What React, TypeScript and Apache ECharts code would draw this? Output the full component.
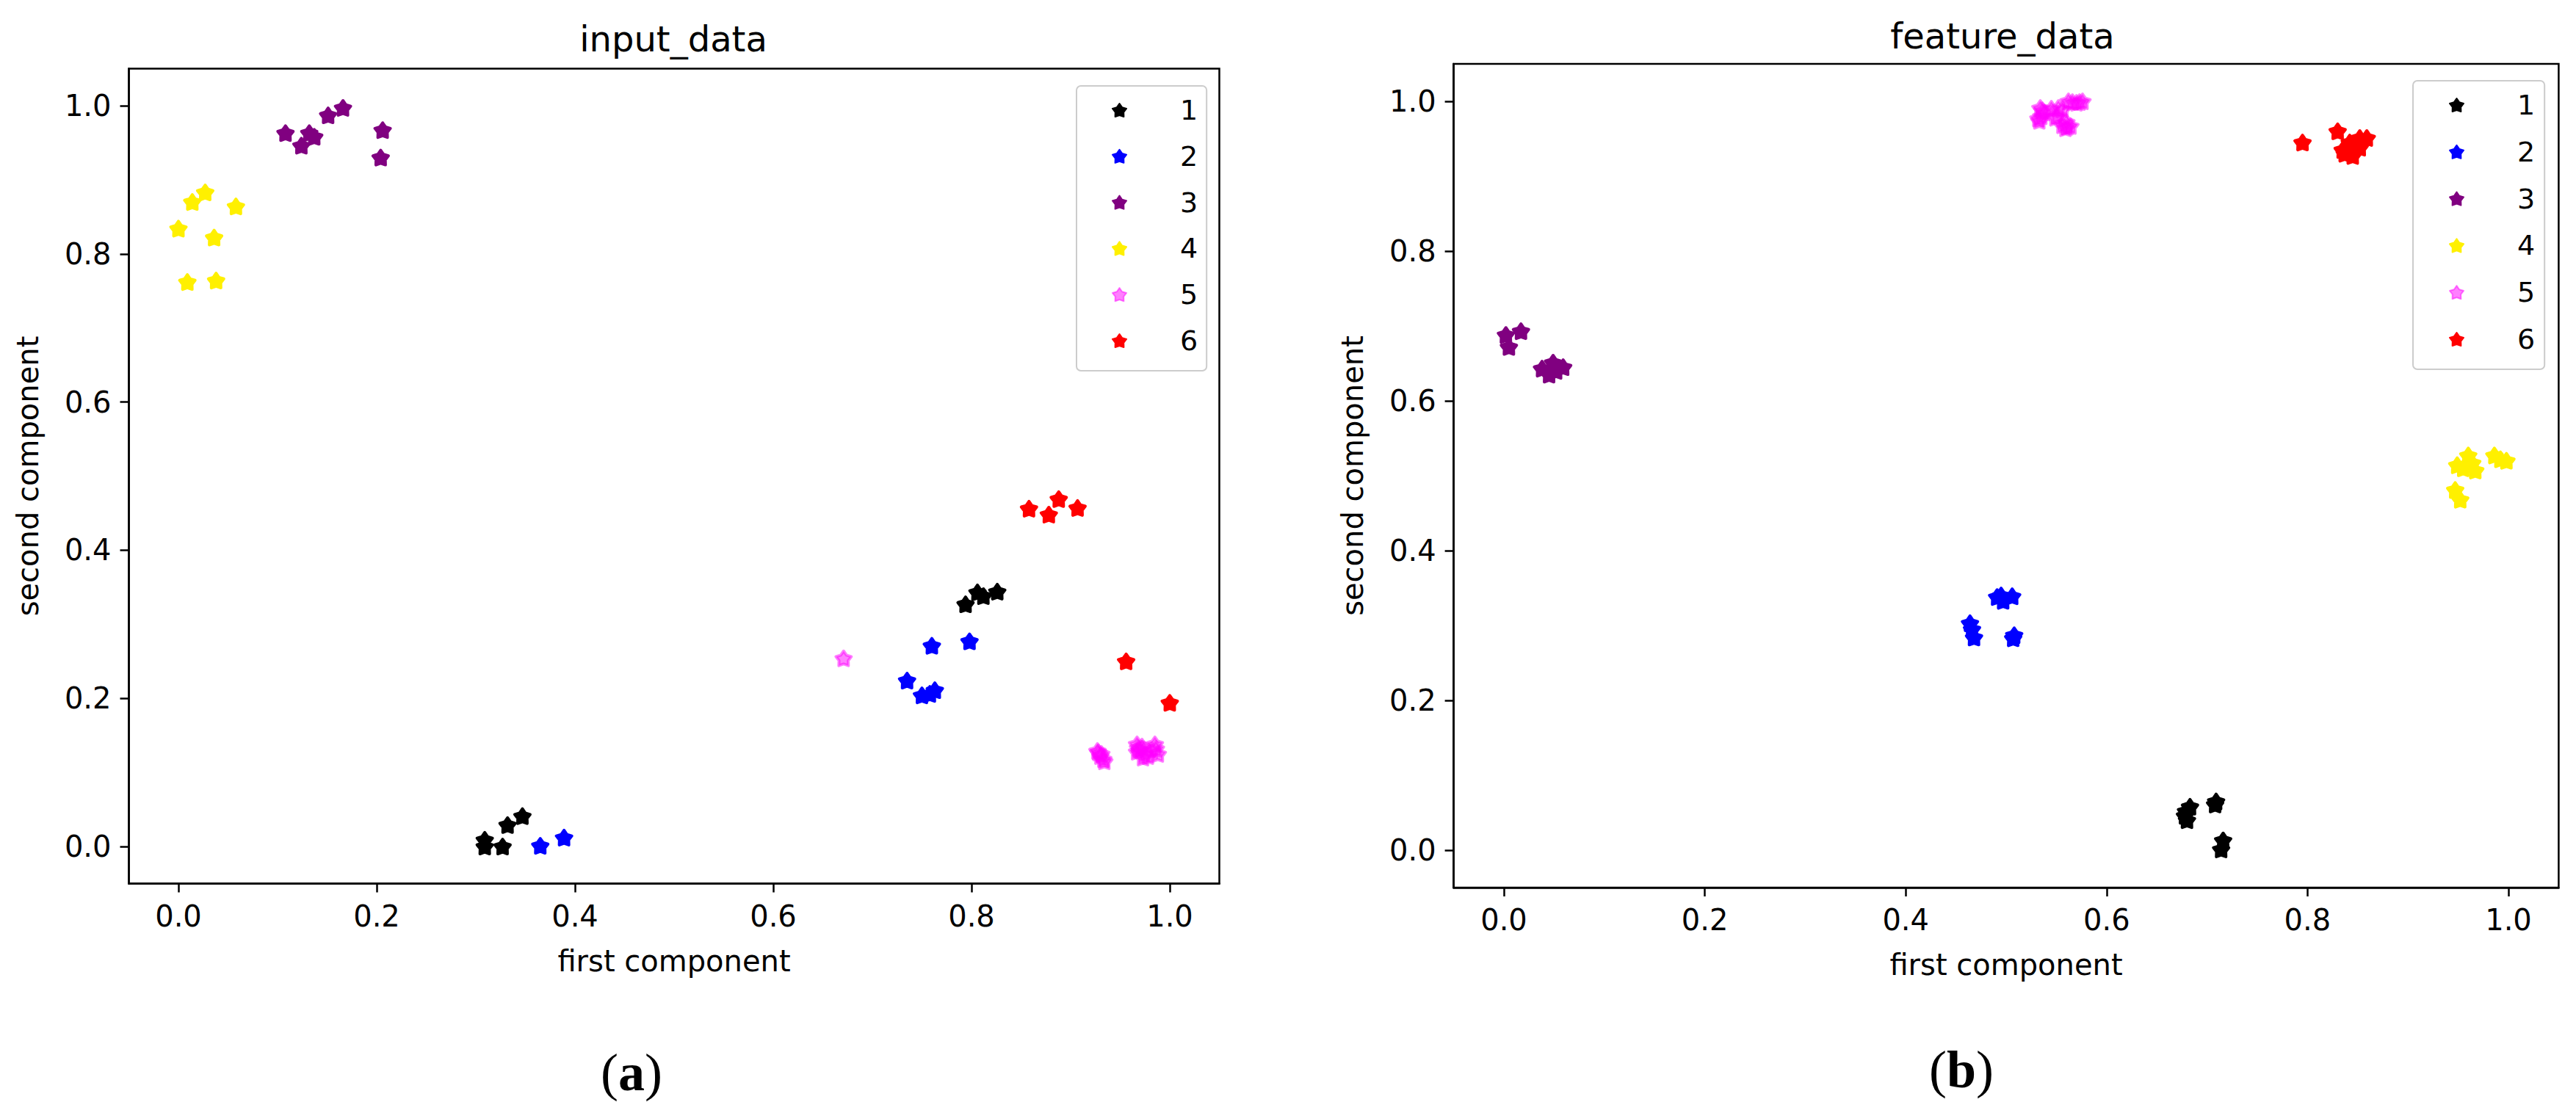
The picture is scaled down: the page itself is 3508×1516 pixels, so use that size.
import React, { useEffect, useRef } from "react";
import * as echarts from "echarts";

const classNames = ["1", "2", "3", "4", "5", "6"];
const classColors = ["#000000", "#0000ff", "#800080", "#fff000", "#ff00ff", "#ff0000"];
const classOpacity = [1, 1, 1, 1, 0.5, 1];
const tickValues = [0, 0.2, 0.4, 0.6, 0.8, 1.0];

const panelTitles = ["input_data", "feature_data"];
const xAxisTitle = "first component";
const yAxisTitle = "second component";
const captions = ["a", "b"];

// panel (a) input_data
const inputC1 = [[0.309, 0.0], [0.309, 0.009], [0.327, 0.0], [0.332, 0.029], [0.347, 0.041], [0.794, 0.327], [0.806, 0.343], [0.812, 0.338], [0.826, 0.344]];
const inputC2 = [[0.365, 0.001], [0.389, 0.012], [0.760, 0.271], [0.798, 0.277], [0.735, 0.224], [0.750, 0.204], [0.763, 0.211], [0.758, 0.206]];
const inputC3 = [[0.108, 0.963], [0.124, 0.946], [0.132, 0.963], [0.137, 0.958], [0.151, 0.987], [0.166, 0.997], [0.206, 0.967], [0.204, 0.930]];
const inputC4 = [[0.027, 0.883], [0.014, 0.870], [0.058, 0.864], [0.0, 0.834], [0.036, 0.822], [0.009, 0.762], [0.038, 0.764]];
const inputC5 = [
  [0.671, 0.254],
  [0.927, 0.129], [0.930, 0.122], [0.934, 0.115], [0.931, 0.125], [0.928, 0.127], [0.933, 0.118],
  [0.967, 0.138], [0.967, 0.128], [0.973, 0.120], [0.970, 0.130], [0.968, 0.133], [0.975, 0.125], [0.972, 0.135], [0.978, 0.122],
  [0.985, 0.138], [0.988, 0.125], [0.982, 0.130], [0.986, 0.132],
];
const inputC6 = [[0.858, 0.456], [0.878, 0.448], [0.888, 0.469], [0.907, 0.457], [0.956, 0.250], [1.0, 0.194]];

// panel (b) feature_data
const featureC1 = [[0.679, 0.052], [0.680, 0.040], [0.683, 0.058], [0.678, 0.046], [0.709, 0.065], [0.708, 0.061], [0.716, 0.013], [0.714, 0.001]];
const featureC2 = [[0.491, 0.338], [0.506, 0.339], [0.497, 0.333], [0.495, 0.340], [0.464, 0.303], [0.468, 0.284], [0.466, 0.295], [0.508, 0.287], [0.507, 0.283]];
const featureC3 = [[0.002, 0.688], [0.017, 0.693], [0.005, 0.672], [0.038, 0.643], [0.049, 0.651], [0.045, 0.635], [0.059, 0.645], [0.052, 0.640]];
const featureC4 = [[0.949, 0.514], [0.964, 0.517], [0.960, 0.527], [0.986, 0.527], [0.998, 0.520], [0.947, 0.481], [0.952, 0.468], [0.967, 0.507], [0.955, 0.510], [0.992, 0.522]];
const featureC5 = [
  [0.534, 0.991], [0.533, 0.974], [0.552, 0.991], [0.562, 1.0], [0.576, 1.0], [0.559, 0.964], [0.564, 0.967], [0.551, 0.981],
  [0.538, 0.985], [0.570, 0.998], [0.560, 0.972], [0.535, 0.980], [0.536, 0.988], [0.532, 0.977], [0.556, 0.989], [0.566, 0.999],
  [0.573, 0.999], [0.561, 0.966], [0.556, 0.968], [0.549, 0.978], [0.545, 0.990],
];
const featureC6 = [[0.795, 0.945], [0.830, 0.960], [0.852, 0.951], [0.859, 0.951], [0.837, 0.930], [0.845, 0.927], [0.852, 0.938], [0.842, 0.945], [0.835, 0.935]];

const inputSeries = [inputC1, inputC2, inputC3, inputC4, inputC5, inputC6];
const featureSeries = [featureC1, featureC2, featureC3, featureC4, featureC5, featureC6];

const STAR =
  "path://M0,-100 L35.27,-48.54 L95.11,-30.9 L57.06,18.54 L58.78,80.9 L0,60 L-58.78,80.9 L-57.06,18.54 L-95.11,-30.9 L-35.27,-48.54 Z";

const FONT = "DejaVu Sans";

function makeXAxis(gridIndex: number) {
  return {
    type: "value",
    gridIndex,
    min: -0.05,
    max: 1.05,
    name: xAxisTitle,
    nameLocation: "middle",
    nameGap: 85,
    nameTextStyle: { fontSize: 40, fontFamily: FONT, color: "#000" },
    axisLine: { show: true, onZero: false, lineStyle: { color: "#000", width: 2.5 } },
    axisTick: { show: true, length: 12, customValues: tickValues, lineStyle: { color: "#000", width: 2.5 } },
    axisLabel: {
      customValues: tickValues,
      formatter: (v: number) => v.toFixed(1),
      fontSize: 40,
      fontFamily: FONT,
      color: "#000",
      margin: 24,
    },
    splitLine: { show: false },
  };
}

function makeYAxis(gridIndex: number) {
  return {
    type: "value",
    gridIndex,
    min: -0.05,
    max: 1.05,
    name: yAxisTitle,
    nameLocation: "middle",
    nameGap: 118,
    nameTextStyle: { fontSize: 40, fontFamily: FONT, color: "#000" },
    axisLine: { show: true, onZero: false, lineStyle: { color: "#000", width: 2.5 } },
    axisTick: { show: true, length: 12, customValues: tickValues, lineStyle: { color: "#000", width: 2.5 } },
    axisLabel: {
      customValues: tickValues,
      formatter: (v: number) => v.toFixed(1),
      fontSize: 40,
      fontFamily: FONT,
      color: "#000",
      margin: 24,
    },
    splitLine: { show: false },
  };
}

function makeSeries(sets: number[][][], axisIndex: number) {
  return sets.map((data, i) => ({
    type: "scatter",
    name: classNames[i],
    xAxisIndex: axisIndex,
    yAxisIndex: axisIndex,
    symbol: STAR,
    symbolKeepAspect: true,
    symbolSize: 21,
    itemStyle: {
      color: classColors[i],
      borderColor: classColors[i],
      borderWidth: 4,
      borderJoin: "round",
      opacity: classOpacity[i],
    },
    emphasis: { disabled: true },
    data,
  }));
}

function makeLegend(left: number, top: number, gap: number, padding: number[], textPad: number) {
  return {
    orient: "vertical",
    left,
    top,
    data: classNames.map((n) => ({ name: n, icon: STAR })),
    itemWidth: 19,
    itemHeight: 19,
    itemGap: gap,
    padding,
    backgroundColor: "#ffffff",
    borderColor: "#cccccc",
    borderWidth: 2,
    borderRadius: 6,
    selectedMode: false,
    textStyle: { fontSize: 38, fontFamily: FONT, color: "#000", padding: [0, 0, 0, textPad] },
  };
}

export default function App() {
  const ref = useRef<HTMLDivElement>(null);
  useEffect(() => {
    if (!ref.current) return;
    const chart = echarts.init(ref.current, undefined, { renderer: "svg" });
    const captionRich = {
      n: { fontSize: 72, fontFamily: "Liberation Serif", fill: "#000", color: "#000" },
      b: { fontSize: 72, fontFamily: "Liberation Serif", fontWeight: "bold", fill: "#000", color: "#000" },
    };
    const option = {
      animation: false,
      backgroundColor: "#ffffff",
      grid: [
        { left: 175.5, top: 93.5, width: 1485, height: 1110, show: true, borderColor: "#000", borderWidth: 2.5, backgroundColor: "transparent" },
        { left: 1979.6, top: 87, width: 1504.8, height: 1122, show: true, borderColor: "#000", borderWidth: 2.5, backgroundColor: "transparent" },
      ],
      xAxis: [makeXAxis(0), makeXAxis(1)],
      yAxis: [makeYAxis(0), makeYAxis(1)],
      legend: [
        makeLegend(1466, 117, 24.8, [14, 12, 22, 48], 68),
        makeLegend(3286, 110, 25.8, [14, 13, 22, 49], 68),
      ],
      series: [...makeSeries(inputSeries, 0), ...makeSeries(featureSeries, 1)],
      graphic: [
        {
          type: "text",
          x: 917,
          y: 53,
          style: { text: panelTitles[0], fontSize: 48, fontFamily: FONT, fill: "#000", textAlign: "center", textVerticalAlign: "middle", align: "center", verticalAlign: "middle" },
        },
        {
          type: "text",
          x: 2727,
          y: 49,
          style: { text: panelTitles[1], fontSize: 48, fontFamily: FONT, fill: "#000", textAlign: "center", textVerticalAlign: "middle", align: "center", verticalAlign: "middle" },
        },
        {
          type: "text",
          x: 860,
          y: 1461,
          style: {
            text: "{n|(}{b|" + captions[0] + "}{n|)}",
            textAlign: "center",
            textVerticalAlign: "middle",
            align: "center",
            verticalAlign: "middle",
            rich: captionRich,
          },
        },
        {
          type: "text",
          x: 2671,
          y: 1457,
          style: {
            text: "{n|(}{b|" + captions[1] + "}{n|)}",
            textAlign: "center",
            textVerticalAlign: "middle",
            align: "center",
            verticalAlign: "middle",
            rich: captionRich,
          },
        },
      ],
    };
    chart.setOption(option as any);
    return () => chart.dispose();
  }, []);
  return (
    <div
      ref={ref}
      style={{ position: "absolute", left: 0, top: 0, width: 3508, height: 1516, background: "#fff" }}
    />
  );
}
